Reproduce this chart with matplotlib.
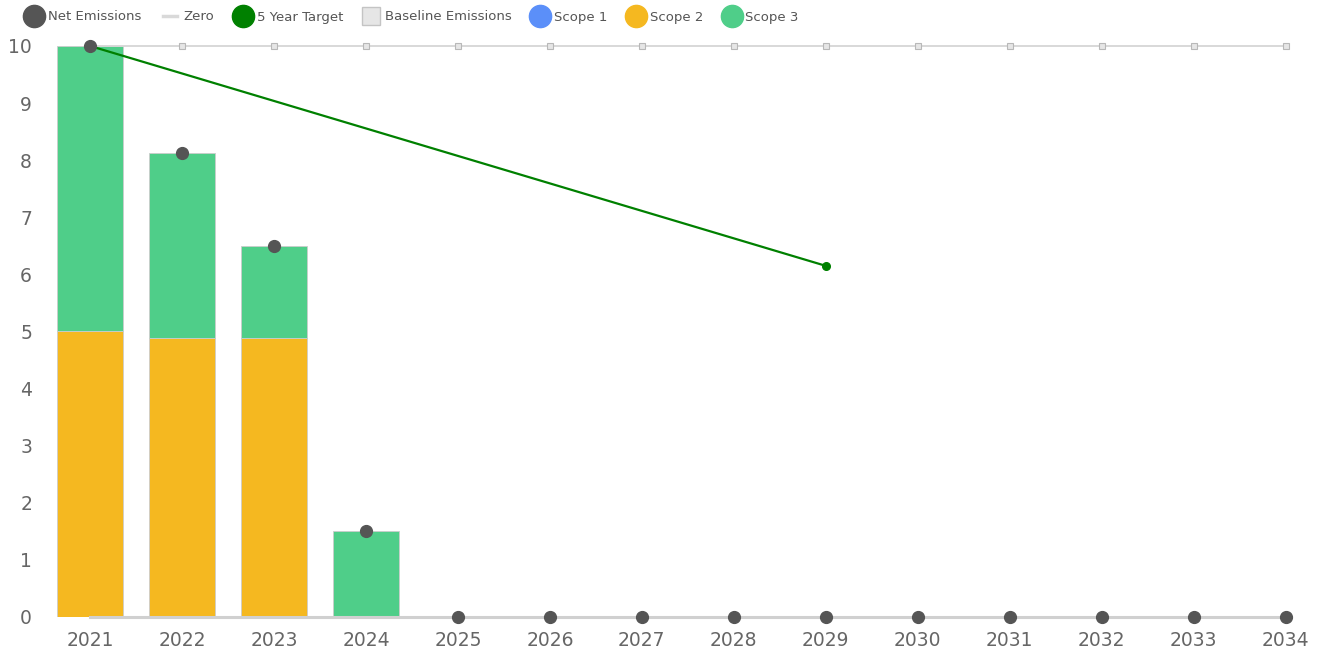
import matplotlib
matplotlib.use("Agg")
import matplotlib.pyplot as plt
from matplotlib.lines import Line2D
import numpy as np

years = ["2021", "2022", "2023", "2024", "2025", "2026", "2027", "2028", "2029",
         "2030", "2031", "2032", "2033", "2034"]
scope1 = [0, 0, 0, 0, 0, 0, 0, 0, 0, 0, 0, 0, 0, 0]
scope2 = [5.0, 4.89, 4.89, 0, 0, 0, 0, 0, 0, 0, 0, 0, 0, 0]
scope3 = [5.0, 3.24, 1.61, 1.5, 0, 0, 0, 0, 0, 0, 0, 0, 0, 0]
net_emissions = [10.0, 8.13, 6.5, 1.5, 0, 0, 0, 0, 0, 0, 0, 0, 0, 0]
baseline = [10.0] * 14
zero = [0.0] * 14
target_years = ["2021", "2029"]
target_values = [10.0, 6.15]

c_s1 = "#5B8FF9"
c_s2 = "#F5B820"
c_s3 = "#4FCE89"
c_net = "#555555"
c_target = "#008000"

fig = plt.figure(figsize=(13.17, 6.53), dpi=100)
ax = fig.add_axes([57/1317, 1-617/653, (1292-57)/1317, (617-46)/653])

x = np.arange(len(years))
w = 0.72
s1 = np.array(scope1); s2 = np.array(scope2); s3 = np.array(scope3)
ax.bar(x, s1, w, color=c_s1, edgecolor="#cccccc", linewidth=0.6, zorder=2)
ax.bar(x, s2, w, bottom=s1, color=c_s2, edgecolor="#cccccc", linewidth=0.6, zorder=2)
ax.bar(x, s3, w, bottom=s1 + s2, color=c_s3, edgecolor="#cccccc", linewidth=0.6, zorder=2)

ax.plot(x, zero, color="#d0d0d0", lw=2.2, zorder=3, clip_on=False)
ax.plot(x, baseline, color="#d6d6d6", lw=1.3, marker="s", markersize=4.5,
        markerfacecolor="#e6e6e6", markeredgecolor="#b8b8b8", markeredgewidth=0.8,
        zorder=3, clip_on=False)
tx = [years.index(t) for t in target_years]
ax.plot(tx, target_values, color=c_target, lw=1.6, marker="o", markersize=5.5,
        zorder=4, clip_on=False)
ax.plot(x, net_emissions, linestyle="none", marker="o", markersize=8.5,
        color=c_net, zorder=5, clip_on=False)

ax.set_xlim(-0.36, 13.07)
ax.set_ylim(0, 10)
ax.set_xticks(x)
ax.set_xticklabels(years)
ax.set_yticks(range(0, 11))
for s in ax.spines.values():
    s.set_visible(False)
ax.tick_params(axis="both", length=0, labelsize=13.5, colors="#666666")
ax.tick_params(axis="x", pad=10)
ax.tick_params(axis="y", pad=18)

handles = [
    Line2D([], [], linestyle="none", marker="o", markersize=16, color=c_net),
    Line2D([], [], color="#d9d9d9", lw=2.5),
    Line2D([], [], linestyle="none", marker="o", markersize=16, color=c_target),
    Line2D([], [], linestyle="none", marker="s", markersize=13,
           markerfacecolor="#e6e6e6", markeredgecolor="#c4c4c4"),
    Line2D([], [], linestyle="none", marker="o", markersize=16, color=c_s1),
    Line2D([], [], linestyle="none", marker="o", markersize=16, color=c_s2),
    Line2D([], [], linestyle="none", marker="o", markersize=16, color=c_s3),
]
labels = ["Net Emissions", "Zero", "5 Year Target", "Baseline Emissions",
          "Scope 1", "Scope 2", "Scope 3"]
leg = fig.legend(handles, labels, loc="center left",
                 bbox_to_anchor=(27/1317, 1-17/653),
                 ncol=7, frameon=False, fontsize=9.5, handlelength=1.1,
                 handletextpad=0.5, columnspacing=1.6, labelcolor="#555555",
                 borderpad=0, borderaxespad=0)

fig.savefig("out.png", dpi=100)
